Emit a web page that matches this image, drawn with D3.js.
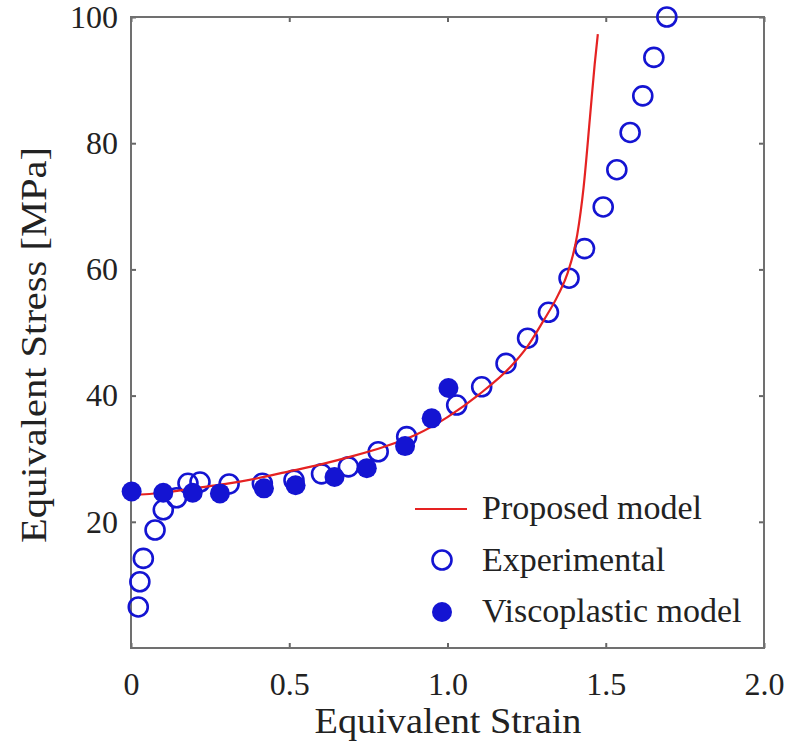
<!DOCTYPE html>
<html>
<head>
<meta charset="utf-8">
<script src="https://cdn.jsdelivr.net/npm/d3@7"></script>
<style>
  body { margin: 0; background: #fff; }
  text { font-family: "Liberation Serif", "Times New Roman", serif; fill: #222; }
</style>
</head>
<body>
<div id="chart"></div>
<script>
// Proposed model curve (strain, stress)
const modelStrain = [0, 0.1, 0.2, 0.3, 0.4, 0.5, 0.6, 0.7, 0.8, 0.9, 1.0, 1.1, 1.2, 1.25, 1.3, 1.35, 1.38, 1.41, 1.43, 1.45, 1.465, 1.475];
const modelStress = [24.2, 24.6, 25.3, 26.0, 26.9, 28.0, 29.1, 30.4, 31.9, 33.8, 36.6, 40.2, 44.6, 47.6, 51.6, 56.0, 59.5, 65.5, 73.0, 84.0, 92.5, 97.3];

// Experimental points (open circles)
const expStrain = [0.023, 0.028, 0.039, 0.076, 0.102, 0.144, 0.18, 0.218, 0.31, 0.415, 0.515, 0.602, 0.687, 0.781, 0.871, 1.029, 1.108, 1.185, 1.253, 1.319, 1.384, 1.433, 1.492, 1.535, 1.577, 1.617, 1.652, 1.693];
const expStress = [6.5, 10.5, 14.2, 18.7, 21.9, 23.8, 26.1, 26.3, 26.0, 26.1, 26.6, 27.6, 28.7, 31.1, 33.5, 38.5, 41.4, 45.1, 49.1, 53.2, 58.6, 63.3, 69.9, 75.8, 81.7, 87.5, 93.6, 100.0];

// Viscoplastic model points (filled circles)
const viscoStrain = [0.002, 0.102, 0.195, 0.281, 0.42, 0.52, 0.643, 0.745, 0.866, 0.95, 1.003];
const viscoStress = [24.8, 24.6, 24.6, 24.5, 25.3, 25.8, 27.1, 28.5, 32.0, 36.4, 41.2];

const xTicks = [0, 0.5, 1.0, 1.5, 2.0];
const yTicks = [20, 40, 60, 80, 100];
const legendLabels = ["Proposed model", "Experimental", "Viscoplastic model"];

const W = 798, H = 744;
const margin = {top: 17, right: 34, bottom: 96, left: 131};
const blue = "#1414d2", red = "#e52222";

const svg = d3.select("#chart").append("svg")
  .attr("width", W).attr("height", H);

const x = d3.scaleLinear().domain([0, 2]).range([margin.left, W - margin.right]);
const y = d3.scaleLinear().domain([0, 100]).range([H - margin.bottom, margin.top]);

// axes with inward ticks
const fmtX = d => d === 0 ? "0" : d3.format(".1f")(d);
svg.append("g")
  .attr("transform", `translate(0,${y(0)})`)
  .call(d3.axisBottom(x).tickValues(xTicks).tickFormat(fmtX).tickSize(-5).tickPadding(24))
  .call(g => g.select(".domain").remove());
svg.append("g")
  .attr("transform", `translate(${x(0)},0)`)
  .call(d3.axisLeft(y).tickValues(yTicks).tickSize(-5).tickPadding(13))
  .call(g => g.select(".domain").remove());
svg.append("g")
  .attr("transform", `translate(0,${y(100)})`)
  .call(d3.axisTop(x).tickValues(xTicks).tickFormat("").tickSize(-5))
  .call(g => g.select(".domain").remove());
svg.append("g")
  .attr("transform", `translate(${x(2)},0)`)
  .call(d3.axisRight(y).tickValues(yTicks).tickFormat("").tickSize(-5))
  .call(g => g.select(".domain").remove());

svg.selectAll(".tick line").attr("stroke", "#666").attr("stroke-width", 2);
svg.selectAll(".tick text")
  .style("font-family", '"Liberation Serif", serif')
  .style("font-size", "32px")
  .attr("fill", "#222");

// frame
svg.append("rect")
  .attr("x", x(0)).attr("y", y(100))
  .attr("width", x(2) - x(0)).attr("height", y(0) - y(100))
  .attr("fill", "none").attr("stroke", "#707070").attr("stroke-width", 2);

// axis titles
svg.append("text")
  .attr("x", 448).attr("y", 733)
  .attr("text-anchor", "middle")
  .attr("textLength", 267).attr("lengthAdjust", "spacingAndGlyphs")
  .style("font-size", "35px")
  .text("Equivalent Strain");
svg.append("text")
  .attr("transform", "translate(46,345) rotate(-90)")
  .attr("text-anchor", "middle")
  .attr("textLength", 396).attr("lengthAdjust", "spacingAndGlyphs")
  .style("font-size", "36px")
  .text("Equivalent Stress [MPa]");

const expData = expStrain.map((s, i) => ({s, v: expStress[i]}));
const viscoData = viscoStrain.map((s, i) => ({s, v: viscoStress[i]}));
const modelData = modelStrain.map((s, i) => ({s, v: modelStress[i]}));

// experimental
svg.append("g").selectAll("circle")
  .data(expData).enter().append("circle")
  .attr("cx", d => x(d.s)).attr("cy", d => y(d.v))
  .attr("r", 9.5)
  .attr("fill", "none").attr("stroke", blue).attr("stroke-width", 2.6);

// proposed model
const line = d3.line().x(d => x(d.s)).y(d => y(d.v)).curve(d3.curveMonotoneX);
svg.append("path")
  .datum(modelData)
  .attr("fill", "none").attr("stroke", red).attr("stroke-width", 2.2)
  .attr("d", line);

// viscoplastic
svg.append("g").selectAll("circle")
  .data(viscoData).enter().append("circle")
  .attr("cx", d => x(d.s)).attr("cy", d => y(d.v))
  .attr("r", 10)
  .attr("fill", blue);

// legend
const lg = svg.append("g");
lg.append("line")
  .attr("x1", 415).attr("x2", 467).attr("y1", 509).attr("y2", 509)
  .attr("stroke", red).attr("stroke-width", 2.2);
lg.append("circle").attr("cx", 442).attr("cy", 560).attr("r", 9.5)
  .attr("fill", "none").attr("stroke", blue).attr("stroke-width", 2.6);
lg.append("circle").attr("cx", 442).attr("cy", 612).attr("r", 10)
  .attr("fill", blue);
lg.selectAll("text")
  .data(legendLabels).enter().append("text")
  .attr("x", 482)
  .attr("y", (d, i) => 519 + i * 51.5)
  .style("font-size", "34px")
  .text(d => d);
</script>
</body>
</html>
